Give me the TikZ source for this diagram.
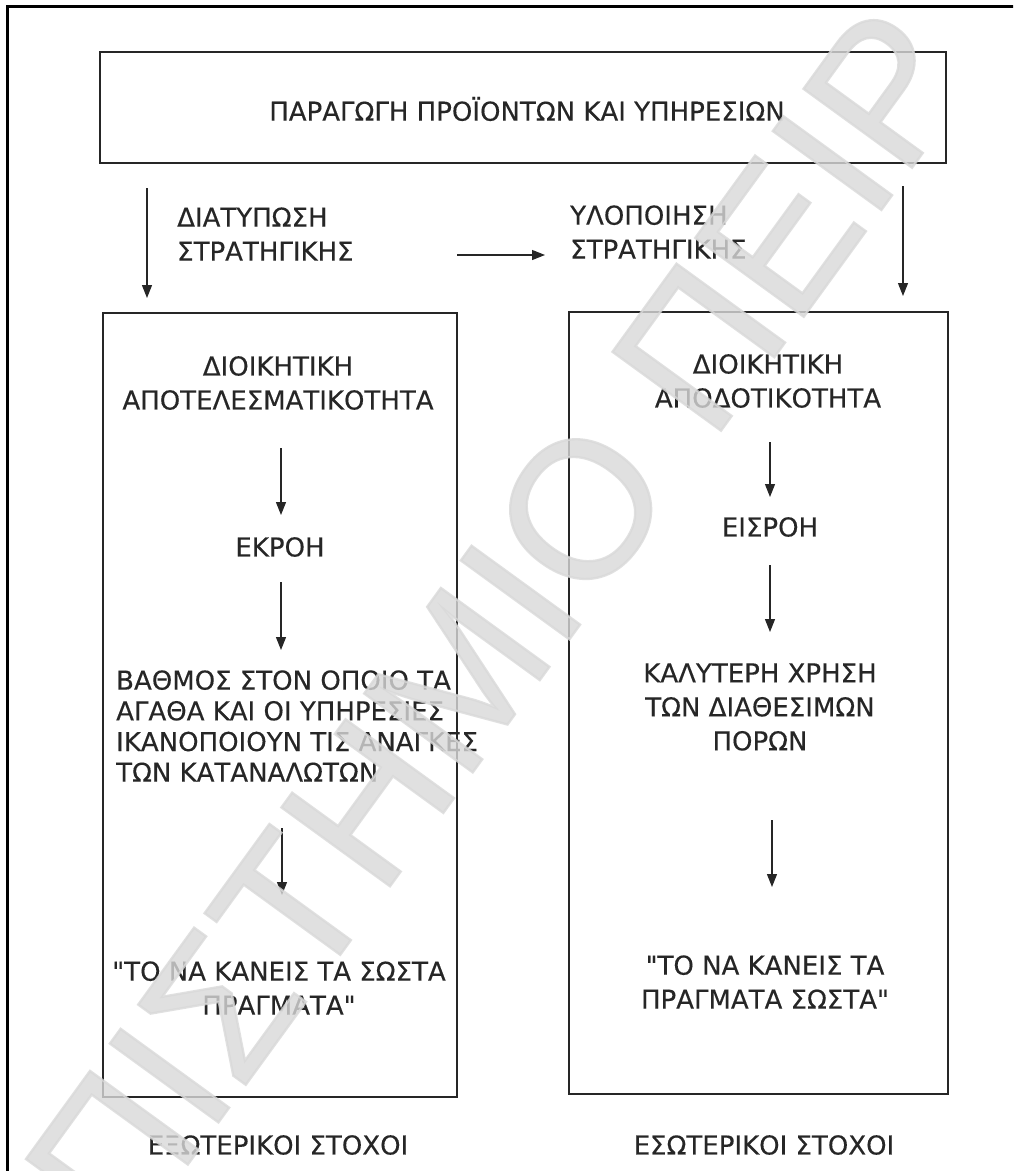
\documentclass[tikz,border=0pt]{standalone}
\usepackage{fontspec}
\setmainfont[Ligatures=TeXOff, FakeBold=0.3]{DejaVu Sans}
\newfontfamily\wmfont[FakeBold=1.2]{Liberation Sans}
\usetikzlibrary{arrows.meta}

\begin{document}
\begin{tikzpicture}[x=1pt,y=-1pt,
  outerframe/.style={draw=black, line width=3pt},
  box/.style={draw=black!85, line width=1.5pt, inner sep=0pt, outer sep=0pt, anchor=north west},
  lbl/.style={font=\fontsize{26}{34}\selectfont, text=black!85, inner sep=0pt},
  arr/.style={draw=black!85, line width=1.1pt, -{Triangle[length=13pt,width=10pt]}},
  wmtext/.style={font=\wmfont\fontsize{195}{195}\selectfont, text=black!15, text opacity=0.8, inner sep=0pt}
]
\useasboundingbox (0,0) rectangle (1013,1171);
\begin{scope}
\clip (0,0) rectangle (1013,1171);
\fill[white] (0,0) rectangle (1013,1171);
\draw[outerframe] (7,1200) -- (7,6) -- (1040,6);

% boxes
\node[box, minimum width=846pt, minimum height=111pt] (prod) at (100,52) {};
\node[box, minimum width=354pt, minimum height=784pt] (lbox) at (103,313) {};
\node[box, minimum width=379pt, minimum height=782pt] (rbox) at (569,312) {};

% top level labels
\node[lbl] (title) at (527,109) {ΠΑΡΑΓΩΓΗ ΠΡΟΪΟΝΤΩΝ ΚΑΙ ΥΠΗΡΕΣΙΩΝ};
\node[lbl, align=left, anchor=west] (form) at (177,234) {ΔΙΑΤΥΠΩΣΗ\\ΣΤΡΑΤΗΓΙΚΗΣ};
\node[lbl, align=left, anchor=west] (impl) at (570,232) {ΥΛΟΠΟΙΗΣΗ\\ΣΤΡΑΤΗΓΙΚΗΣ};

% left column
\node[lbl, align=center] (eff) at (278,383) {ΔΙΟΙΚΗΤΙΚΗ\\ΑΠΟΤΕΛΕΣΜΑΤΙΚΟΤΗΤΑ};
\node[lbl] (out) at (280,547) {ΕΚΡΟΗ};
\node[lbl, align=left, anchor=west, font=\fontsize{26}{30.7}\selectfont] (deg) at (116,726) {ΒΑΘΜΟΣ ΣΤΟΝ ΟΠΟΙΟ ΤΑ\\ΑΓΑΘΑ ΚΑΙ ΟΙ ΥΠΗΡΕΣΙΕΣ\\ΙΚΑΝΟΠΟΙΟΥΝ ΤΙΣ ΑΝΑΓΚΕΣ\\ΤΩΝ ΚΑΤΑΝΑΛΩΤΩΝ};
\node[lbl, align=center] (right) at (279,988) {"ΤΟ ΝΑ ΚΑΝΕΙΣ ΤΑ ΣΩΣΤΑ\\ΠΡΑΓΜΑΤΑ"};
\node[lbl] (ext) at (278,1145) {ΕΞΩΤΕΡΙΚΟΙ ΣΤΟΧΟΙ};

% right column
\node[lbl, align=center] (effc) at (768,381) {ΔΙΟΙΚΗΤΙΚΗ\\ΑΠΟΔΟΤΙΚΟΤΗΤΑ};
\node[lbl] (inp) at (770,527) {ΕΙΣΡΟΗ};
\node[lbl, align=center] (use) at (760,707) {ΚΑΛΥΤΕΡΗ ΧΡΗΣΗ\\ΤΩΝ ΔΙΑΘΕΣΙΜΩΝ\\ΠΟΡΩΝ};
\node[lbl, align=center] (well) at (765,982) {"ΤΟ ΝΑ ΚΑΝΕΙΣ ΤΑ\\ΠΡΑΓΜΑΤΑ ΣΩΣΤΑ"};
\node[lbl] (int) at (764,1145) {ΕΣΩΤΕΡΙΚΟΙ ΣΤΟΧΟΙ};

% arrow end points
\coordinate (dl0) at (147,188);  \coordinate (dl1) at (147,298);
\coordinate (dr0) at (903,186);  \coordinate (dr1) at (903,296);
\coordinate (h0) at (457,255);   \coordinate (h1) at (545,255);
\coordinate (l10) at (281,448);  \coordinate (l11) at (281,515);
\coordinate (l20) at (281,582);  \coordinate (l21) at (281,650);
\coordinate (l30) at (282,828);  \coordinate (l31) at (282,895);
\coordinate (r10) at (770,442);  \coordinate (r11) at (770,497);
\coordinate (r20) at (770,565);  \coordinate (r21) at (770,632);
\coordinate (r30) at (772,820);  \coordinate (r31) at (772,887);

\draw[arr] (dl0) -- (dl1);
\draw[arr] (dr0) -- (dr1);
\draw[arr] (h0) -- (h1);
\draw[arr] (l10) -- (l11);
\draw[arr] (l20) -- (l21);
\draw[arr] (l30) -- (l31);
\draw[arr] (r10) -- (r11);
\draw[arr] (r20) -- (r21);
\draw[arr] (r30) -- (r31);

% watermark lettering across the sheet
\node[wmtext, rotate=54, anchor=base west] (wm) at (125,1251) {ΠΙΣΤΗΜΙΟ ΠΕΙΡ};
\end{scope}
\end{tikzpicture}
\end{document}
